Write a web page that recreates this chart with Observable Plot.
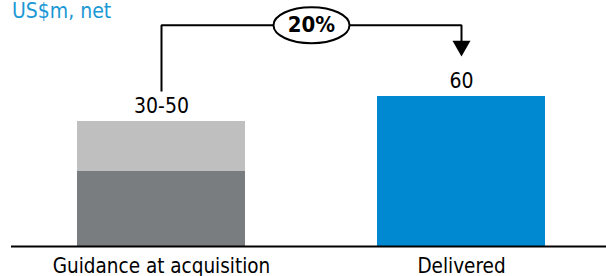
<!DOCTYPE html>
<html>
<head>
<meta charset="utf-8">
<script src="https://cdn.jsdelivr.net/npm/d3@7"></script>
<script src="https://cdn.jsdelivr.net/npm/@observablehq/plot@0.6"></script>
<style>
  html, body { margin: 0; padding: 0; background: #fff; }
  #wrap { position: relative; width: 606px; height: 276px; overflow: hidden; }
  #title { position: absolute; left: 12px; top: 1px; font-family: "DejaVu Sans Condensed", "DejaVu Sans", sans-serif; font-stretch: condensed; font-size: 21px; color: #1a98d5; line-height: 21px; }
  svg { display: block; }
</style>
</head>
<body>
<div id="wrap"><div id="title">US$m, net</div></div>
<script>
// ---- data ----
const categories = ["Guidance at acquisition", "Delivered"];
const guidanceLow = 30;
const guidanceHigh = 50;
const delivered = 60;
const valueLabels = ["30-50", "60"];
const changeLabel = "20%";
const segmentNames = ["Guidance low", "Guidance range", "Delivered"];
const segmentColors = ["#7a7d80", "#bfbfbf", "#0088d1"];

// annotation levels (data units)
const bracketBase = guidanceHigh + 12;
const bracketTop = delivered + 28.5;
const arrowHeadLevel = delivered + 20.2;

const bars = [
  {cat: categories[0], y1: 0, y2: guidanceLow, seg: segmentNames[0]},
  {cat: categories[0], y1: guidanceLow, y2: guidanceHigh, seg: segmentNames[1]},
  {cat: categories[1], y1: 0, y2: delivered, seg: segmentNames[2]}
];
const labels = [
  {cat: categories[0], y: guidanceHigh, text: valueLabels[0]},
  {cat: categories[1], y: delivered, text: valueLabels[1]}
];
const bracket = [
  {cat: categories[0], y: bracketBase},
  {cat: categories[0], y: bracketTop},
  {cat: categories[1], y: bracketTop},
  {cat: categories[1], y: arrowHeadLevel + 1.5}
];

const ellipseSymbol = {
  draw(ctx) {
    const rx = 38, ry = 18, k = 0.5523;
    ctx.moveTo(rx, 0);
    ctx.bezierCurveTo(rx, ry * k, rx * k, ry, 0, ry);
    ctx.bezierCurveTo(-rx * k, ry, -rx, ry * k, -rx, 0);
    ctx.bezierCurveTo(-rx, -ry * k, -rx * k, -ry, 0, -ry);
    ctx.bezierCurveTo(rx * k, -ry, rx, -ry * k, rx, 0);
    ctx.closePath();
  }
};

const font = '"DejaVu Sans Condensed", "DejaVu Sans", sans-serif';

const chart = Plot.plot({
  width: 606,
  height: 276,
  marginLeft: 11,
  marginRight: -5,
  marginTop: 0,
  marginBottom: 30,
  style: {fontFamily: font, fontSize: "21px", color: "#000", background: "transparent", fontStretch: "condensed"},
  x: {domain: categories, paddingInner: 0.44, paddingOuter: 0.22, axis: null},
  y: {domain: [0, delivered], range: [246, 96], axis: null},
  color: {domain: segmentNames, range: segmentColors},
  marks: [
    Plot.barY(bars, {x: "cat", y1: "y1", y2: "y2", fill: "seg"}),
    Plot.ruleY([0], {stroke: "#000", strokeWidth: 2}),
    Plot.axisX({tickSize: 0, tickPadding: 12, fontSize: 20.5, label: null}),
    Plot.text(labels, {x: "cat", y: "y", text: "text", dy: -9, lineAnchor: "bottom", fontSize: 21, fill: "#000"}),
    Plot.line(bracket, {x: "cat", y: "y", stroke: "#000", strokeWidth: 2, strokeLinejoin: "miter", strokeLinecap: "butt"}),
    Plot.dot([categories[1]], {x: d => d, y: () => arrowHeadLevel, symbol: "triangle", r: 6.68, rotate: 180, fill: "#000", stroke: "none"}),
    Plot.dot([changeLabel], {y: () => bracketTop, symbol: ellipseSymbol, r: 5, fill: "#fff", stroke: "#000", strokeWidth: 2}),
    Plot.text([changeLabel], {y: () => bracketTop, text: d => d, fontSize: 22, fontWeight: "bold", fill: "#000", lineAnchor: "middle"})
  ]
});
document.getElementById("wrap").prepend(chart);
</script>
</body>
</html>
